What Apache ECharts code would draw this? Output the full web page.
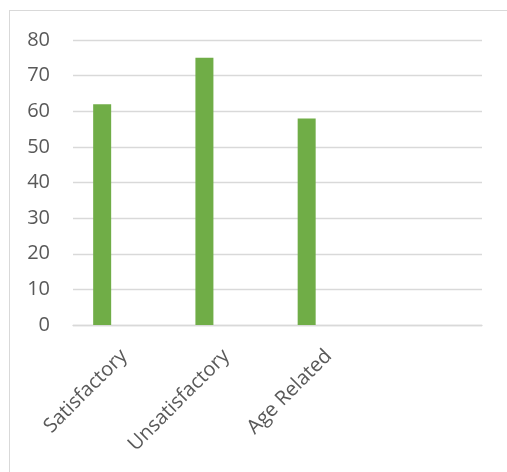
<!DOCTYPE html>
<html>
<head>
<meta charset="utf-8">
<script src="https://cdn.jsdelivr.net/npm/echarts@6/dist/echarts.min.js"></script>
<style>
  html, body { margin: 0; padding: 0; background: #fff; }
  #frame { position: absolute; left: 9px; top: 10px; width: 520px; height: 480px; border: 1px solid #d9d9d9; box-sizing: border-box; }
  #chart { position: absolute; left: 0; top: 0; width: 507px; height: 472px; }
</style>
</head>
<body>
<div id="frame"></div>
<div id="chart"></div>
<script>
const categories = ['Satisfactory', 'Unsatisfactory', 'Age Related', ''];
const seriesValues = [62, 75, 58];
const emptySeriesB = [];
const emptySeriesC = [];
const yTicks = { min: 0, max: 80, interval: 10 };

const chart = echarts.init(document.getElementById('chart'));
chart.setOption({
  animation: false,
  grid: { left: 73, right: 25, top: 40, bottom: 147, containLabel: false },
  xAxis: {
    type: 'category',
    data: categories,
    axisLine: { show: true, lineStyle: { color: '#d9d9d9', width: 1.3 } },
    axisTick: { show: false },
    axisLabel: {
      rotate: 45,
      interval: 0,
      margin: 28,
      color: '#595959',
      fontFamily: 'Open Sans',
      fontSize: 20
    }
  },
  yAxis: {
    type: 'value',
    min: yTicks.min,
    max: yTicks.max,
    interval: yTicks.interval,
    axisLine: { show: false },
    axisTick: { show: false },
    splitLine: { lineStyle: { color: '#d9d9d9', width: 1.3 } },
    axisLabel: {
      color: '#595959',
      fontFamily: 'Open Sans',
      fontSize: 20,
      margin: 23
    }
  },
  series: [
    { name: 'Series 1', type: 'bar', data: seriesValues, barWidth: 18, barGap: '22%', itemStyle: { color: '#70ad47' } },
    { name: 'Series 2', type: 'bar', data: emptySeriesB, barWidth: 18, barGap: '22%' },
    { name: 'Series 3', type: 'bar', data: emptySeriesC, barWidth: 18, barGap: '22%' }
  ]
});
</script>
</body>
</html>
